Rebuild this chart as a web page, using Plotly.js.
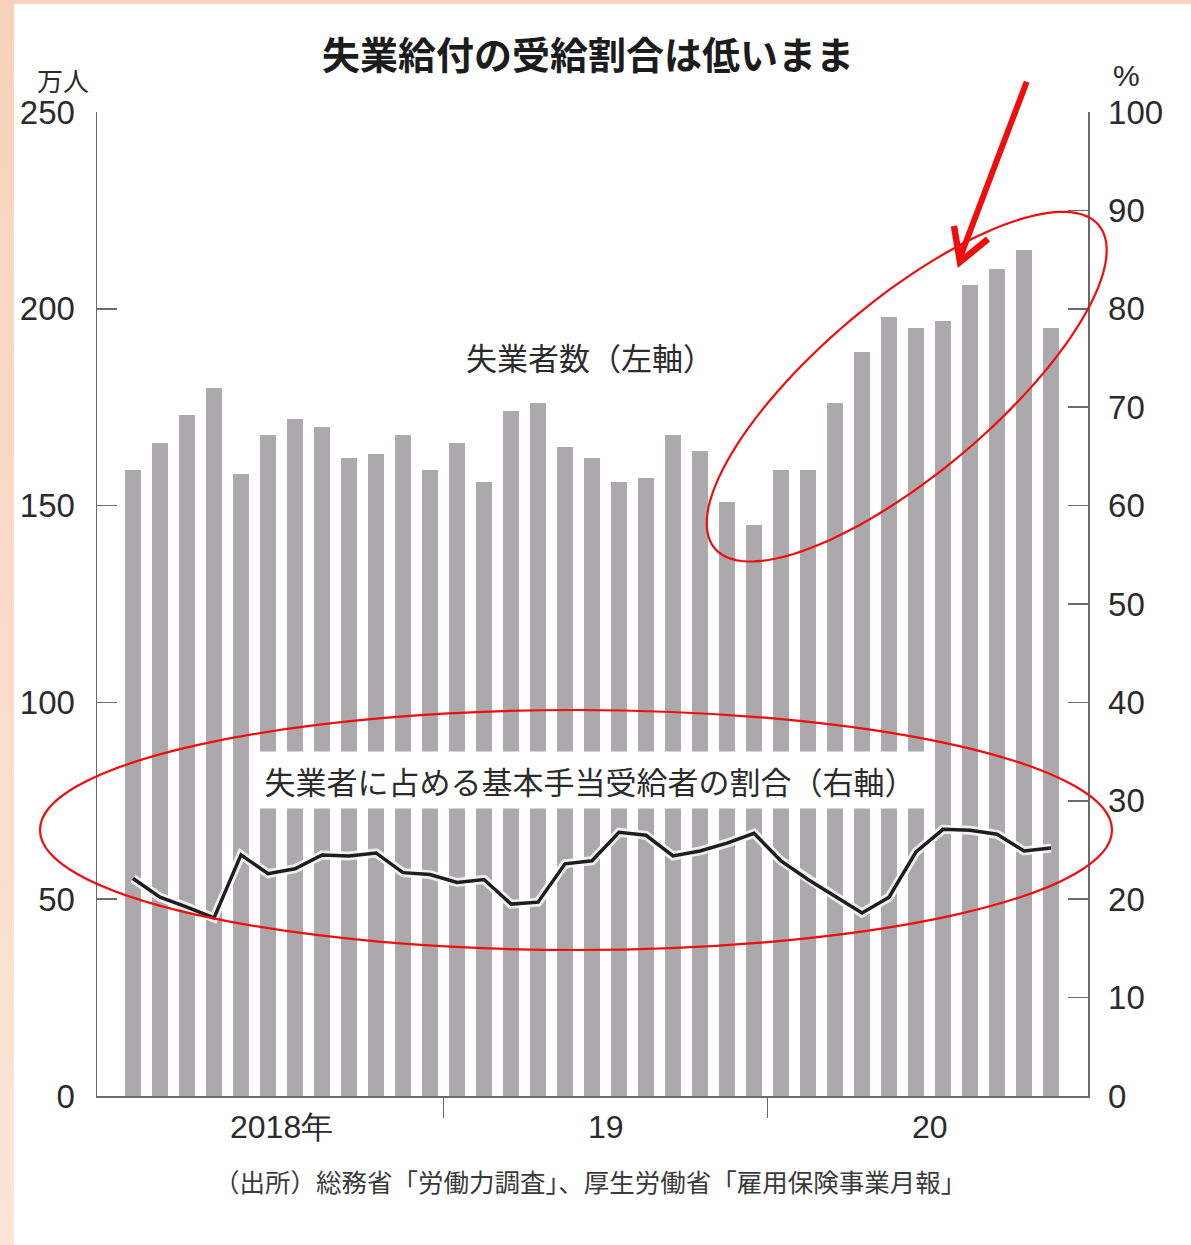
<!DOCTYPE html>
<html>
<head>
<meta charset="utf-8">
<script src="https://cdn.plot.ly/plotly-3.0.1.min.js"></script>
<style>
  html, body { margin: 0; padding: 0; width: 1191px; height: 1245px; overflow: hidden;
    background: linear-gradient(to bottom, #f8d2bb, #fbe5d8); }
  #chart { position: absolute; left: 14px; top: 4px; width: 1177px; height: 1241px; background: #fff; }
</style>
</head>
<body>
<div id="chart"></div>
<script>
// Monthly series, Jan 2018 - Nov 2020
const months = [
  '2018-01','2018-02','2018-03','2018-04','2018-05','2018-06','2018-07','2018-08','2018-09','2018-10','2018-11','2018-12',
  '2019-01','2019-02','2019-03','2019-04','2019-05','2019-06','2019-07','2019-08','2019-09','2019-10','2019-11','2019-12',
  '2020-01','2020-02','2020-03','2020-04','2020-05','2020-06','2020-07','2020-08','2020-09','2020-10','2020-11'
];
// 失業者数 (万人, left axis)
const unemployed = [
  159, 166, 173, 180, 158, 168, 172, 170, 162, 163, 168, 159,
  166, 156, 174, 176, 165, 162, 156, 157, 168, 164, 151, 145,
  159, 159, 176, 189, 198, 195, 197, 206, 210, 215, 195
];
// 失業者に占める基本手当受給者の割合 (%, right axis)
const benefitShare = [
  22.1, 20.2, 19.2, 18.1, 24.5, 22.6, 23.1, 24.5, 24.4, 24.7, 22.7, 22.5,
  21.7, 22.0, 19.5, 19.7, 23.6, 23.9, 26.8, 26.5, 24.4, 24.9, 25.7, 26.7,
  23.9, 22.0, 20.3, 18.6, 20.2, 24.8, 27.1, 27.0, 26.6, 24.9, 25.2
];
const yearLabels = ['2018年', '19', '20'];
const leftTicks = [0, 50, 100, 150, 200, 250];

const titleText = '失業給付の受給割合は低いまま';
const barLabel = '失業者数（左軸）';
const lineLabel = '失業者に占める基本手当受給者の割合（右軸）';
const leftUnit = '万人';
const rightUnit = '%';
const sourceText = '（出所）総務省「労働力調査」、厚生労働省「雇用保険事業月報」';

// ---- geometry helpers (page pixels -> paper fractions) ----
const OFF_X = 14, OFF_Y = 4;          // chart div offset inside the page
const W = 1177, H = 1241;
const PLOT_L = 97, PLOT_R = 1088, PLOT_T = 112, PLOT_B = 1096;   // plot area, page px
const px = x => (x - PLOT_L) / (PLOT_R - PLOT_L);
const py = y => (PLOT_B - y) / (PLOT_B - PLOT_T);

const xIdx = months.map((_, i) => i);
const yearStarts = months.map((m, i) => m.endsWith('-01') ? i : -1).filter(i => i >= 0);
const yearCenters = yearStarts.map(i => i + 5.5);
const yearBounds = yearStarts.filter(i => i > 0).map(i => i - 0.5);

const numFont = 'Liberation Sans, Arial, sans-serif';
const jpFont = 'Noto Sans CJK JP, sans-serif';
const textColor = '#2b2b2b';
const red = '#f20c0c';

const traces = [
  {
    type: 'bar', x: xIdx, y: unemployed, yaxis: 'y', width: 0.58,
    marker: { color: '#aca9ad', line: { width: 0 } }, hoverinfo: 'y'
  },
  {
    type: 'scatter', mode: 'lines', x: xIdx, y: benefitShare, yaxis: 'y2',
    line: { color: 'rgba(255,255,255,0.8)', width: 9 }, hoverinfo: 'skip'
  },
  {
    type: 'scatter', mode: 'lines', x: xIdx, y: benefitShare, yaxis: 'y2',
    line: { color: '#1e1e1e', width: 3.5 }, hoverinfo: 'y'
  }
];

// rotated ellipse drawn as a path
function ellipsePath(cx, cy, a, b, angDeg) {
  const t = -angDeg * Math.PI / 180;
  const pts = [];
  for (let k = 0; k <= 120; k++) {
    const s = 2 * Math.PI * k / 120;
    const ex = a * Math.cos(s), ey = b * Math.sin(s);
    const x = cx + ex * Math.cos(t) - ey * Math.sin(t);
    const y = cy + ex * Math.sin(t) + ey * Math.cos(t);
    pts.push((k ? 'L' : 'M') + px(x).toFixed(5) + ',' + py(y).toFixed(5));
  }
  return pts.join(' ') + ' Z';
}
const seg = pts => pts.map((p, i) => (i ? 'L' : 'M') + px(p[0]).toFixed(5) + ',' + py(p[1]).toFixed(5)).join(' ');

const shapes = [
  { type: 'circle', xref: 'paper', yref: 'paper', x0: px(40), x1: px(1112), y0: py(950), y1: py(710),
    line: { color: red, width: 2.2 }, layer: 'above' },
  { type: 'path', xref: 'paper', yref: 'paper', path: ellipsePath(906.7, 386.7, 251, 87, 40.1),
    line: { color: red, width: 2.2 }, layer: 'above' },
  { type: 'path', xref: 'paper', yref: 'paper', path: seg([[1026.7, 81.7], [959.5, 259]]),
    line: { color: red, width: 6 }, layer: 'above' },
  { type: 'path', xref: 'paper', yref: 'paper', path: seg([[954, 226], [960, 262], [988, 239]]),
    line: { color: red, width: 6.5 }, layer: 'above' }
];

const label = (x, y, text, font, extra) => Object.assign({
  xref: 'paper', yref: 'paper', x: px(x), y: py(y), text: text, showarrow: false,
  xanchor: 'center', yanchor: 'middle', font: font
}, extra || {});

const annotations = [
  label(63, 79, leftUnit, { family: jpFont, size: 26, color: textColor }),
  label(1126, 75, rightUnit, { family: numFont, size: 30, color: textColor }),
  label(590, 356, barLabel, { family: jpFont, size: 31, color: textColor }),
  label(590, 780, lineLabel, { family: jpFont, size: 31, color: textColor },
        { bgcolor: '#ffffff', width: 678, height: 54 }),
  label(590, 1180, sourceText, { family: jpFont, size: 25.5, color: '#3a3a3a' })
].concat(yearLabels.map((t, i) => ({
  xref: 'x', yref: 'paper', x: yearCenters[i], y: py(1127), text: t, showarrow: false,
  xanchor: 'center', yanchor: 'middle',
  font: { family: numFont, size: 32, color: textColor }
})));

const layout = {
  width: W, height: H,
  margin: { l: PLOT_L - OFF_X, r: W - (PLOT_R - OFF_X), t: PLOT_T - OFF_Y, b: H - (PLOT_B - OFF_Y), pad: 0 },
  paper_bgcolor: '#ffffff', plot_bgcolor: 'rgba(0,0,0,0)',
  showlegend: false, bargap: 0,
  title: {
    text: titleText, x: (588 - OFF_X) / W, xanchor: 'center', y: 1 - (56 - OFF_Y) / H, yanchor: 'middle',
    font: { family: jpFont, size: 38, weight: 700, color: '#1c1c1c' }
  },
  xaxis: {
    range: [-1.333, 35.37], showgrid: false, zeroline: false,
    showline: true, linecolor: '#6a6a6a', linewidth: 1.5,
    tickmode: 'array', tickvals: yearBounds, ticktext: yearBounds.map(() => ''),
    ticks: 'outside', ticklen: 20, tickwidth: 1.5, tickcolor: '#6a6a6a', fixedrange: true
  },
  yaxis: {
    range: [0, 250], tickmode: 'array', tickvals: leftTicks, showgrid: false, zeroline: false,
    showline: true, linecolor: '#6a6a6a', linewidth: 1.5,
    ticks: 'inside', ticklen: 20, tickwidth: 1.5, tickcolor: '#6a6a6a', ticklabelstandoff: 14,
    tickfont: { family: numFont, size: 33, color: textColor }, fixedrange: true
  },
  yaxis2: {
    range: [0, 100], dtick: 10, overlaying: 'y', side: 'right', showgrid: false, zeroline: false,
    showline: true, linecolor: '#6a6a6a', linewidth: 1.5,
    ticks: 'inside', ticklen: 20, tickwidth: 1.5, tickcolor: '#6a6a6a', ticklabelstandoff: 12,
    tickfont: { family: numFont, size: 33, color: textColor }, fixedrange: true
  },
  shapes: shapes,
  annotations: annotations
};

Plotly.newPlot('chart', traces, layout, { displayModeBar: false, staticPlot: true });
</script>
</body>
</html>
